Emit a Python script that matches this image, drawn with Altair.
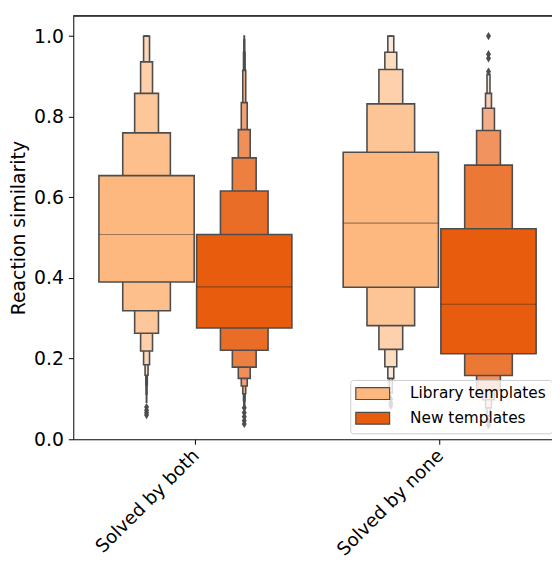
import json
import altair as alt
import pandas as pd

# ---------------- data ----------------
categories = ["Solved by both", "Solved by none"]
hues = ["Library templates", "New templates"]
base_colors = ["#fdb87f", "#e85c0d"]
edge_gray = "#4d4d4d"

# letter-value boxes, innermost (quartiles) first
lib_both_upper = [0.654, 0.760, 0.858, 0.936, 1.0, 1.0, 1.0, 1.0, 1.0]
lib_both_lower = [0.390, 0.319, 0.263, 0.219, 0.185, 0.159, 0.135, 0.112, 0.092]
lib_both_median = 0.508
lib_both_outliers = [0.080, 0.072, 0.066, 0.060]

new_both_upper = [0.508, 0.616, 0.698, 0.768, 0.835, 0.915, 0.960, 0.990, 1.0]
new_both_lower = [0.276, 0.221, 0.179, 0.151, 0.132, 0.113, 0.095, 0.080, 0.068]
new_both_median = 0.378
new_both_outliers = [0.078, 0.066, 0.056, 0.046, 0.038]

lib_none_upper = [0.712, 0.832, 0.917, 0.960, 1.0, 1.0]
lib_none_lower = [0.377, 0.282, 0.223, 0.180, 0.151, 0.115]
lib_none_median = 0.536
lib_none_outliers = [0.100, 0.090, 0.083]

new_none_upper = [0.522, 0.680, 0.766, 0.821, 0.858, 0.905]
new_none_lower = [0.212, 0.158, 0.122, 0.098, 0.078, 0.058]
new_none_median = 0.335
new_none_outliers = [1.0, 0.955, 0.945, 0.912, 0.045, 0.035]

series = [
    (0, 0, lib_both_upper, lib_both_lower, lib_both_median, lib_both_outliers),
    (0, 1, new_both_upper, new_both_lower, new_both_median, new_both_outliers),
    (1, 0, lib_none_upper, lib_none_lower, lib_none_median, lib_none_outliers),
    (1, 1, new_none_upper, new_none_lower, new_none_median, new_none_outliers),
]

hue_offset = [-0.2, 0.2]
box_width = 0.39


def hex2rgb(h):
    h = h.lstrip("#")
    return [int(h[i:i + 2], 16) for i in (0, 2, 4)]


def lighten(h, t):
    r = hex2rgb(h)
    c = [round(v + t * (255 - v)) for v in r]
    return "#%02x%02x%02x" % tuple(c)


box_rows, med_rows, out_rows = [], [], []
for ci, hi, up, lo, med, outs in series:
    center = ci + hue_offset[hi]
    n = len(up)
    # outermost boxes first so inner ones are drawn on top
    for m in range(n - 1, -1, -1):
        hw = box_width / 2 * 0.5 ** m
        t = 0.85 * m / (n - 1)
        box_rows.append(dict(order=len(box_rows), x=center - hw, x2=center + hw,
                             lo=lo[m], hi=up[m], fill=lighten(base_colors[hi], t)))
    med_rows.append(dict(x=center - box_width / 2, x2=center + box_width / 2, y=med))
    for o in outs:
        out_rows.append(dict(x=center, y=o))

boxes = pd.DataFrame(box_rows)
meds = pd.DataFrame(med_rows)
outl = pd.DataFrame(out_rows)
leg = pd.DataFrame({"hue": hues})

W, H = 484, 428
FONT = "DejaVu Sans"
FS = 19
xscale = alt.Scale(domain=[-0.5, 1.46], nice=False, zero=False)
yscale = alt.Scale(domain=[0, 1.05], nice=False, zero=False)

label_expr = json.dumps(categories) + "[datum.value]"

box_layer = alt.Chart(boxes).mark_rect(stroke=edge_gray, strokeWidth=1.6).encode(
    x=alt.X("x:Q", scale=xscale, axis=alt.Axis(
        title=None, values=[0, 1], labelExpr=label_expr, labelAngle=-45,
        labelAlign="right", labelBaseline="middle", labelPadding=8, grid=False,
        tickSize=5, labelFontSize=18.5, labelFont=FONT, labelColor="black",
        domainColor="black", tickColor="black")),
    x2="x2:Q",
    y=alt.Y("lo:Q", scale=yscale, axis=alt.Axis(
        title="Reaction similarity", values=[0, 0.2, 0.4, 0.6, 0.8, 1.0], format=".1f",
        grid=False, tickSize=5, labelFontSize=FS, labelFont=FONT, labelColor="black",
        titleFontSize=FS, titleFont=FONT, titleFontWeight="normal", titleColor="black",
        titlePadding=5, labelPadding=5, domainColor="black", tickColor="black")),
    y2="hi:Q",
    fill=alt.Fill("fill:N", scale=None),
    order=alt.Order("order:Q"),
)

med_layer = alt.Chart(meds).mark_rule(color="#262626", opacity=0.45, strokeWidth=1.2).encode(
    x=alt.X("x:Q", scale=xscale), x2="x2:Q", y=alt.Y("y:Q", scale=yscale))

out_layer = alt.Chart(outl).mark_point(
    shape="M0,-1L0.6,0L0,1L-0.6,0Z", filled=True, color=edge_gray, opacity=1, size=70
).encode(x=alt.X("x:Q", scale=xscale), y=alt.Y("y:Q", scale=yscale))

top_spine = alt.Chart(leg).mark_rule(color="black", strokeWidth=1).encode(
    x=alt.value(0), x2=alt.value(W), y=alt.value(0))

legend_layer = alt.Chart(leg).mark_point(filled=True, opacity=0).encode(
    x=alt.value(0), y=alt.value(0),
    color=alt.Color("hue:N", scale=alt.Scale(domain=hues, range=base_colors),
                    legend=alt.Legend(
                        title=None, orient="none", legendX=280, legendY=368,
                        symbolType="M-2.85,-1H2.85V1H-2.85Z", symbolSize=144,
                        symbolStrokeColor=edge_gray, symbolStrokeWidth=1.2,
                        symbolOpacity=1, symbolOffset=9,
                        labelFontSize=15.5, labelFont=FONT, labelColor="black",
                        labelOffset=30, rowPadding=7, padding=6,
                        fillColor="rgba(255,255,255,0.8)", strokeColor="#cccccc",
                        cornerRadius=3)),
)

chart = alt.layer(box_layer, med_layer, out_layer, top_spine, legend_layer).properties(
    width=W, height=H,
    autosize=alt.AutoSizeParams(type="none"),
    padding={"left": 66, "top": 5, "right": 0, "bottom": 118},
).configure_view(stroke=None)

chart.save("out.html", embed_options={"renderer": "svg", "actions": False})
